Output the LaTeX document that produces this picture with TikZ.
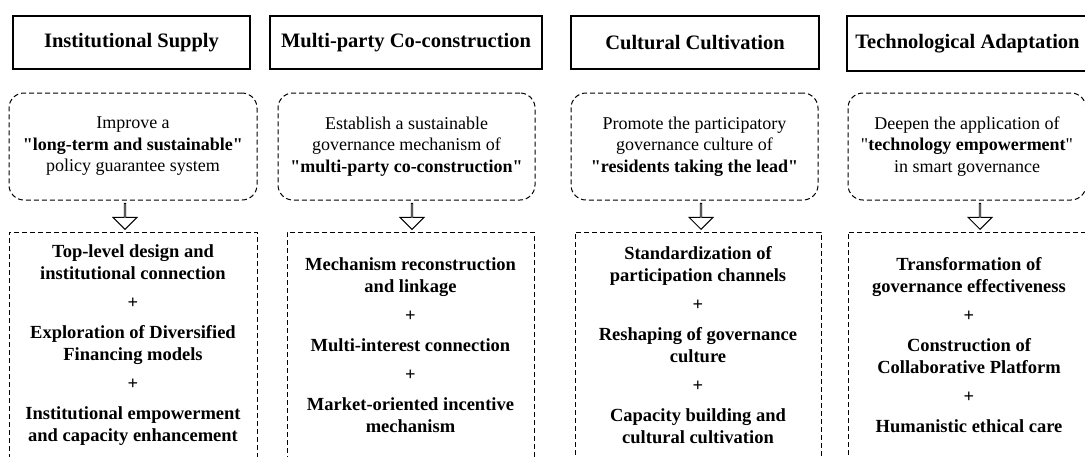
\documentclass[tikz,border=0pt]{standalone}
\usepackage{fontspec}
\setmainfont{Liberation Serif}[Ligatures=TeXOff]
\usepackage{tikz}
\usetikzlibrary{shapes.arrows}
\tikzstyle{header} = [draw, line width=1.3pt, rectangle, minimum height=53pt, inner sep=0pt, font=\fontsize{20.5}{24}\selectfont\bfseries]
\tikzstyle{goal} = [draw, dash pattern=on 5pt off 3pt, line width=1pt, rectangle, rounded corners=15pt, minimum height=107pt, inner sep=0pt, align=center, font=\fontsize{18}{21.5}\selectfont]
\tikzstyle{measure} = [draw, dash pattern=on 5pt off 3pt, line width=1pt, rectangle, minimum height=226pt, inner sep=0pt, align=center, font=\fontsize{18.5}{22}\selectfont\bfseries]
\tikzstyle{downarrow} = [draw, line width=0.9pt, single arrow, shape border rotate=270, single arrow head extend=7pt, single arrow head indent=0pt, minimum height=26pt, minimum width=24pt, inner sep=0pt]

\begin{document}
\begin{tikzpicture}[x=1pt, y=-1pt]
		\clip (0,0) rectangle (1085,456);

		\node [header, minimum width=237pt] (supply) at (131.5,42.5) {Institutional Supply};
		\node [header, minimum width=272pt] (coop) at (406,42.5) {Multi-party Co-construction};
		\node [header, minimum width=248pt] (culture) at (695,42.5) {Cultural Cultivation};
		\node [header, minimum width=241pt, minimum height=55pt] (tech) at (967.5,43.5) {Technological Adaptation};

		\node [goal, minimum width=248pt] (supplygoal) at (133,146.5) {Improve a\\\textbf{"long-term and sustainable"}\\policy guarantee system};
		\node [goal, minimum width=257pt] (coopgoal) at (406.5,146.5) {Establish a sustainable\\governance mechanism of\\\textbf{"multi-party co-construction"}};
		\node [goal, minimum width=247pt] (culturegoal) at (694.5,146.5) {Promote the participatory\\governance culture of\\\textbf{"residents taking the lead"}};
		\node [goal, minimum width=238pt] (techgoal) at (967,146.5) {Deepen the application of\\"\textbf{technology empowerment}"\\in smart governance};

		\node [downarrow] (supplyarr) at (125,216) {};
		\node [downarrow] (cooparr) at (412,216) {};
		\node [downarrow] (culturearr) at (701,216) {};
		\node [downarrow] (techarr) at (980,216) {};

		\node [measure, minimum width=248pt] (supplymea) at (133,345) {Top-level design and\\institutional connection\\[7pt]+\\[8pt]Exploration of Diversified\\Financing models\\[7pt]+\\[8pt]Institutional empowerment\\and capacity enhancement};
		\node [measure, minimum width=247pt] (coopmea) at (410.5,345) {Mechanism reconstruction\\and linkage\\[7pt]+\\[8pt]Multi-interest connection\\[7pt]+\\[8pt]Market-oriented incentive\\mechanism};
		\node [measure, minimum width=246pt] (culturemea) at (698,345) {Standardization of\\participation channels\\[7pt]+\\[8pt]Reshaping of governance\\culture\\[7pt]+\\[8pt]Capacity building and\\cultural cultivation};
		\node [measure, minimum width=242pt] (techmea) at (969,345) {Transformation of\\governance effectiveness\\[7pt]+\\[8pt]Construction of\\Collaborative Platform\\[7pt]+\\[8pt]Humanistic ethical care};
	\end{tikzpicture}
\end{document}
